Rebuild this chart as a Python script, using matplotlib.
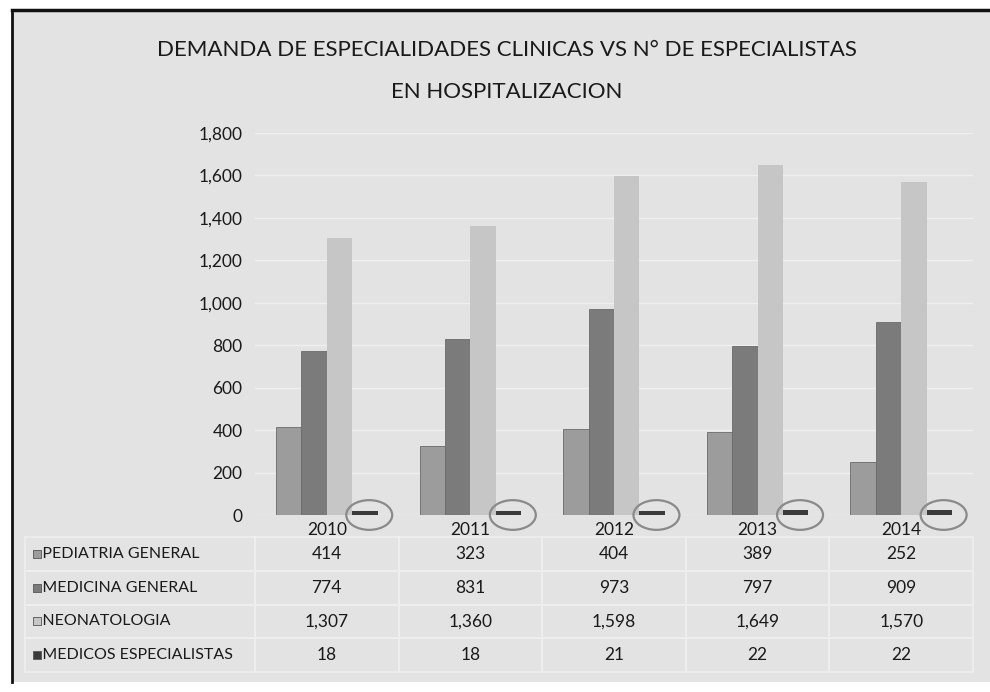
import numpy as np
import matplotlib
matplotlib.use("Agg")
import matplotlib.pyplot as plt
from matplotlib.table import Table
from matplotlib.patches import Ellipse, Rectangle
from matplotlib.lines import Line2D

# ── DATA ─────────────────────────────────────────────────────────────────────
years = ["2010", "2011", "2012", "2013", "2014"]
series_names = ["PEDIATRIA GENERAL", "MEDICINA GENERAL",
                "NEONATOLOGIA", "MEDICOS ESPECIALISTAS"]
pediatria    = [414, 323, 404, 389, 252]
medicina     = [774, 831, 973, 797, 909]
neonatologia = [1307, 1360, 1598, 1649, 1570]
medicos      = [18, 18, 21, 22, 22]
y_ticks      = [0, 200, 400, 600, 800, 1000, 1200, 1400, 1600, 1800]

title = ("DEMANDA DE ESPECIALIDADES CLINICAS VS N° DE ESPECIALISTAS\n"
         "EN HOSPITALIZACION")

# ── STYLE ────────────────────────────────────────────────────────────────────
plt.rcParams["font.family"] = ["Lato", "DejaVu Sans"]
PAPER  = "#e3e3e3"
LINES  = "#efefef"
colors = ["#9c9c9c", "#7b7b7b", "#c6c6c6", "#3a3a3a"]
TEXT   = "#1a1a1a"

fig = plt.figure(figsize=(9.9, 6.92), dpi=100, facecolor="white")

# scanned page: grey paper, frame visible on left and top only
fig.add_artist(Rectangle((12 / 990, 1 - 682 / 692), 1.0, 672 / 692,
                         transform=fig.transFigure, facecolor=PAPER,
                         edgecolor="none", zorder=-10))
fig.add_artist(Line2D([12 / 990, 12 / 990], [1 - 682 / 692, 1 - 10 / 692],
                      transform=fig.transFigure, color="#111111", linewidth=2.0))
fig.add_artist(Line2D([12 / 990, 1.0], [1 - 10 / 692, 1 - 10 / 692],
                      transform=fig.transFigure, color="#111111", linewidth=2.5))

ax = fig.add_axes([255 / 990, 1 - 515 / 692, 718 / 990, 382 / 692])
ax.set_facecolor("none")

x = np.arange(len(years))
w = 0.177
all_series = [pediatria, medicina, neonatologia, medicos]
for i, (vals, col) in enumerate(zip(all_series, colors)):
    ax.bar(x + (i - 1.5) * w, vals, width=w, color=col,
           edgecolor="#6a6a6a" if i < 2 else "none",
           linewidth=0.6 if i < 2 else 0, zorder=3)

# hand-drawn circles around the tiny "medicos" bars
for xi in x:
    ax.add_patch(Ellipse((xi + 1.5 * w + 0.03, 0), 0.32, 140,
                         fill=False, edgecolor="#8a8a8a", linewidth=1.6,
                         clip_on=False, zorder=4))

ax.set_xlim(-0.5, len(years) - 0.5)
ax.set_ylim(0, 1800)
ax.set_yticks(y_ticks)
ax.set_yticklabels([f"{v:,}" for v in y_ticks])
ax.set_xticks(x)
ax.set_xticklabels(years)
ax.tick_params(axis="both", length=0, labelsize=12.5, colors=TEXT)
ax.tick_params(axis="y", pad=9)
ax.tick_params(axis="x", pad=5)
ax.yaxis.grid(True, color=LINES, linewidth=1.0, zorder=0)
ax.set_axisbelow(True)
for s in ax.spines.values():
    s.set_visible(False)

# ── DATA TABLE UNDER THE CHART ───────────────────────────────────────────────
label_w = 230 / 718
tbl = Table(ax, bbox=[-label_w, -157 / 382, 1 + label_w, (157 - 22) / 382])
label_cells = []
for r, (name, vals) in enumerate(zip(series_names, all_series)):
    c0 = tbl.add_cell(r, 0, width=label_w, height=1, text="   " + name,
                      loc="left", facecolor="none", edgecolor=LINES)
    c0.PAD = 0.02
    label_cells.append(c0)
    for c, v in enumerate(vals):
        tbl.add_cell(r, c + 1, width=0.2, height=1, text=f"{v:,}",
                     loc="center", facecolor="none", edgecolor=LINES)
tbl.auto_set_font_size(False)
tbl.set_fontsize(12.5)
for cell in tbl.get_celld().values():
    cell.get_text().set_color(TEXT)
    cell.set_linewidth(1.2)
for c0 in label_cells:
    c0.get_text().set_fontsize(11.5)
ax.add_table(tbl)

# legend keys in the table
row_h = (157 - 22) / 382 / 4
for r, col in enumerate(colors):
    ax.scatter([-0.304], [-22 / 382 - (r + 0.5) * row_h], s=30, marker="s",
               color=col, edgecolors="#555555", linewidths=0.6,
               transform=ax.transAxes, clip_on=False, zorder=5)

fig.text(0.512, 1 - 71 / 692, title, ha="center", va="center",
         fontsize=16, color=TEXT, linespacing=2.4)

fig.savefig("out.png", dpi=100, facecolor=fig.get_facecolor())
